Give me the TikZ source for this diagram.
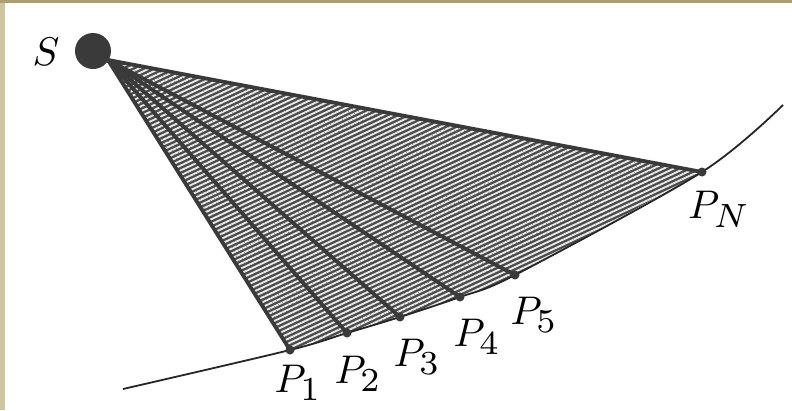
\documentclass[tikz,border=0pt]{standalone}
\usepackage{graphicx}
\usetikzlibrary{patterns.meta}
\definecolor{topbar}{RGB}{170,160,112}
\definecolor{leftbar}{RGB}{205,198,158}
\definecolor{fandark}{RGB}{75,75,75}
\definecolor{stripe}{RGB}{232,232,232}
\definecolor{rayc}{RGB}{58,58,58}
\newcommand{\bigsub}[1]{\scalebox{1.2}{$\scriptstyle #1$}}
\tikzset{
  lbl/.style={inner sep=0pt, scale=4},
  ray/.style={draw=rayc, line width=3.8pt, line cap=round},
  curveline/.style={draw=black!85, line width=1.8pt},
  ptdot/.style={fill=rayc},
}
\begin{document}
\begin{tikzpicture}[x=1pt,y=-1pt]
\useasboundingbox (0,0) rectangle (792,410);
\fill[white] (0,0) rectangle (792,410);
\fill[leftbar] (0,0) rectangle (5,410);
\fill[topbar] (0,0) rectangle (792,2.5);
% points
\coordinate (A) at (108,60);
\coordinate (C0) at (123,389);
\coordinate (P1) at (290,350);
\coordinate (P2) at (347,333);
\coordinate (P3) at (400,317);
\coordinate (P4) at (460,297);
\coordinate (P5) at (515,275);
\coordinate (PN) at (702,172);
\coordinate (C9) at (783,105);
% shaded fan
\fill[fandark] (A) -- plot[smooth] coordinates {(P1) (P2) (P3) (P4) (P5) (PN)} -- cycle;
\fill[pattern={Lines[angle=25,distance=4.4pt,line width=1.9pt]}, pattern color=stripe]
  (A) -- plot[smooth] coordinates {(P1) (P2) (P3) (P4) (P5) (PN)} -- cycle;
% curve
\draw[curveline] plot[smooth] coordinates {(C0) (P1) (P2) (P3) (P4) (P5) (PN) (C9)};
% rays
\foreach \p in {P1,P2,P3,P4,P5,PN} {
  \draw[ray] (A) -- (\p);
  \fill[ptdot] (\p) circle (4.5);
}
% source
\node[circle, fill=rayc, minimum size=36pt, inner sep=0pt] (S) at (93,51) {};
% labels
\node[lbl] (lS) at (46,52) {$S$};
\node[lbl] (l1) at (298,383) {$P_{\bigsub{1}}$};
\node[lbl] (l2) at (358,374) {$P_{\bigsub{2}}$};
\node[lbl] (l3) at (417,357) {$P_{\bigsub{3}}$};
\node[lbl] (l4) at (477,337) {$P_{\bigsub{4}}$};
\node[lbl] (l5) at (534,315) {$P_{\bigsub{5}}$};
\node[lbl] (lN) at (719,209) {$P_{\bigsub{N}}$};
\end{tikzpicture}
\end{document}
